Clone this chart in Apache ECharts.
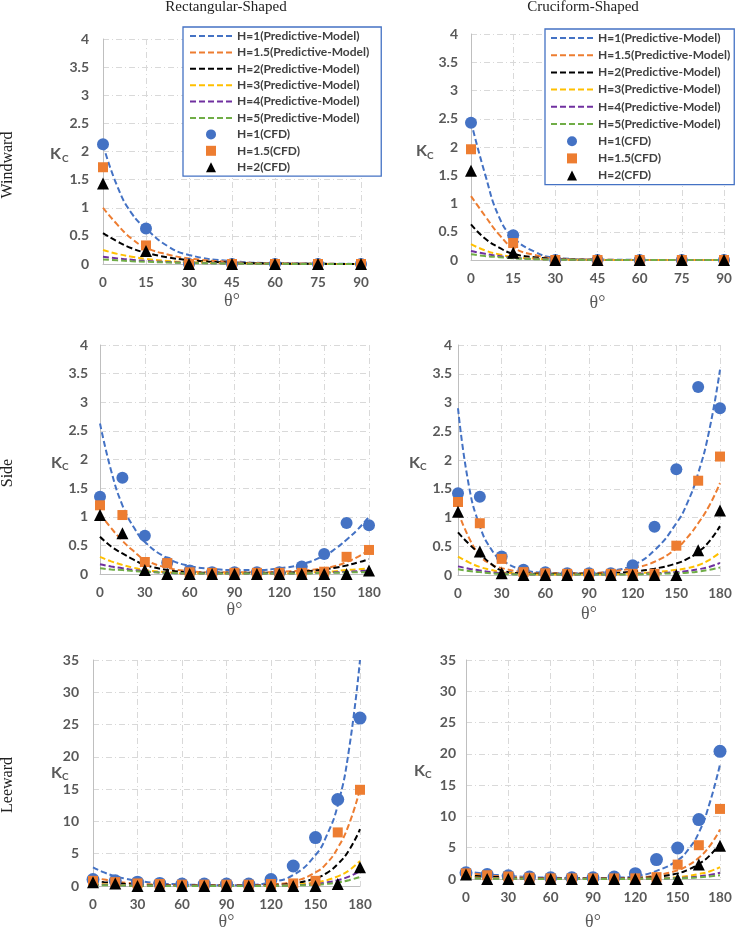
<!DOCTYPE html>
<html><head><meta charset="utf-8">
<script src="https://cdn.jsdelivr.net/npm/echarts/dist/echarts.min.js"></script>
<style>html,body{margin:0;padding:0;background:#fff}#c{width:740px;height:937px}</style>
</head><body><div id="c"></div>
<script>
// ---------- DATA ----------
const modelNames = ['H=1(Predictive-Model)','H=1.5(Predictive-Model)','H=2(Predictive-Model)','H=3(Predictive-Model)','H=4(Predictive-Model)','H=5(Predictive-Model)'];
const cfdNames = ['H=1(CFD)','H=1.5(CFD)','H=2(CFD)'];
const colTitles = ['Rectangular-Shaped','Cruciform-Shaped'];
const rowTitles = ['Windward','Side','Leeward'];

const xWindCurve = [0,5,10,15,22.5,30,45,60,75,90];
const xWindCFD = [0,15,30,45,60,75,90];
const xFullCurve = [0,7.5,15,22.5,30,45,60,75,90,105,120,135,150,157.5,165,172.5,180];
const xFullCFD = [0,15,30,45,60,75,90,105,120,135,150,165,180];

const rectWindModel = [
  [2.12,1.38,0.9,0.63,0.32,0.16,0.05,0.015,0.005,0.002],
  [1.0,0.7,0.45,0.29,0.17,0.1,0.035,0.012,0.004,0.001],
  [0.55,0.4,0.28,0.2,0.12,0.07,0.025,0.009,0.003,0.001],
  [0.25,0.18,0.13,0.09,0.055,0.033,0.012,0.004,0.002,0.001],
  [0.13,0.1,0.075,0.055,0.035,0.022,0.009,0.004,0.002,0.001],
  [0.08,0.065,0.05,0.04,0.027,0.018,0.008,0.003,0.001,0]
];
const rectWindCFD = [
  [2.13,0.63,0,0,0,0,0],
  [1.72,0.33,0,0,0,0,0],
  [1.43,0.23,0,0,0,0,0]
];
const crucWindModel = [
  [2.45,1.52,0.76,0.4,0.15,0.04,0.008,0.002,0,0],
  [1.13,0.78,0.45,0.22,0.09,0.03,0.005,0.001,0,0],
  [0.63,0.38,0.22,0.11,0.05,0.02,0.003,0,0,0],
  [0.28,0.17,0.1,0.055,0.025,0.01,0.002,0,0,0],
  [0.16,0.11,0.07,0.04,0.02,0.01,0.002,0,0,0],
  [0.1,0.07,0.05,0.03,0.015,0.007,0.001,0,0,0]
];
const crucWindCFD = [
  [2.43,0.44,0,0,0,0,0],
  [1.96,0.3,0,0,0,0,0],
  [1.58,0.13,0,0,0,0,0]
];
const rectSideModel = [
  [2.63,1.8,1.2,0.82,0.56,0.28,0.14,0.09,0.07,0.07,0.1,0.17,0.32,0.44,0.6,0.78,1.0],
  [1.05,0.8,0.58,0.4,0.25,0.11,0.05,0.03,0.03,0.03,0.04,0.06,0.1,0.14,0.21,0.3,0.42],
  [0.65,0.48,0.36,0.25,0.16,0.07,0.03,0.02,0.02,0.02,0.02,0.04,0.08,0.11,0.15,0.2,0.26],
  [0.3,0.22,0.16,0.11,0.07,0.03,0.01,0.01,0.01,0.01,0.01,0.02,0.04,0.05,0.07,0.08,0.1],
  [0.17,0.13,0.1,0.07,0.05,0.02,0.01,0.01,0.01,0.01,0.01,0.01,0.03,0.03,0.04,0.05,0.06],
  [0.1,0.08,0.07,0.05,0.04,0.02,0.01,0.01,0.01,0.01,0.01,0.01,0.02,0.02,0.03,0.03,0.04]
];
const rectSideCFD = [
  [1.35,1.68,0.67,0.2,0.06,0.03,0.03,0.03,0.03,0.13,0.35,0.89,0.85],
  [1.2,1.03,0.21,0.19,0.03,0.02,0.02,0.02,0.02,0.02,0.04,0.3,0.42],
  [1.03,0.71,0.07,0,0,0,0,0,0,0,0,0,0.06]
];
const crucSideModel = [
  [2.9,1.55,0.85,0.46,0.26,0.09,0.04,0.03,0.03,0.07,0.17,0.43,0.9,1.25,1.77,2.5,3.57],
  [1.1,0.65,0.34,0.19,0.12,0.05,0.03,0.03,0.03,0.06,0.12,0.23,0.46,0.65,0.9,1.2,1.6],
  [0.74,0.54,0.37,0.2,0.08,0.03,0.02,0.02,0.02,0.03,0.06,0.11,0.2,0.28,0.4,0.58,0.85],
  [0.32,0.22,0.14,0.09,0.05,0.02,0.01,0.01,0.01,0.01,0.03,0.05,0.09,0.12,0.17,0.26,0.39],
  [0.15,0.11,0.08,0.05,0.03,0.01,0.01,0.01,0.01,0.01,0.02,0.03,0.05,0.07,0.1,0.14,0.21],
  [0.1,0.07,0.05,0.03,0.02,0.01,0.01,0.01,0.01,0.01,0.01,0.02,0.03,0.04,0.06,0.09,0.13]
];
const crucSideCFD = [
  [1.42,1.36,0.32,0.09,0.05,0.03,0.03,0.03,0.17,0.84,1.84,3.27,2.9],
  [1.27,0.9,0.28,0.05,0.03,0.02,0.02,0.02,0.02,0.02,0.51,1.64,2.06],
  [1.1,0.41,0.03,0,0,0,0,0,0,0,0,0.43,1.12]
];
const rectLeeModel = [
  [2.9,2.1,1.5,1.1,0.8,0.4,0.25,0.15,0.12,0.15,0.6,1.7,4.8,7.8,12.5,21,35],
  [1.3,1.0,0.7,0.5,0.35,0.2,0.12,0.1,0.1,0.12,0.25,0.7,2.1,3.5,5.9,9.5,15],
  [0.8,0.6,0.45,0.32,0.22,0.12,0.08,0.06,0.06,0.07,0.15,0.4,1.2,2.0,3.4,5.5,8.8],
  [0.4,0.28,0.2,0.14,0.1,0.06,0.04,0.03,0.03,0.03,0.06,0.2,0.55,0.9,1.5,2.4,3.9],
  [0.25,0.18,0.12,0.09,0.06,0.04,0.02,0.02,0.02,0.02,0.04,0.12,0.33,0.55,0.9,1.45,2.3],
  [0.15,0.11,0.08,0.06,0.04,0.02,0.01,0.01,0.01,0.01,0.02,0.07,0.2,0.33,0.55,0.9,1.4]
];
const rectLeeCFD = [
  [1.0,0.8,0.6,0.4,0.3,0.3,0.3,0.3,1.0,3.1,7.5,13.4,26.0],
  [0.8,0.6,0.4,0.3,0.2,0.2,0.2,0.2,0.3,0.4,0.8,8.3,14.9],
  [0.6,0.4,0,0,0,0,0,0,0,0,0,0.3,2.9]
];
const crucLeeModel = [
  [1.3,1.0,0.8,0.62,0.5,0.3,0.2,0.15,0.15,0.2,0.45,1.3,3.0,4.7,7.4,12.0,18.3],
  [1.0,0.8,0.6,0.45,0.35,0.2,0.12,0.1,0.1,0.12,0.2,0.6,1.4,2.2,3.4,5.2,7.9],
  [0.6,0.48,0.38,0.3,0.22,0.12,0.08,0.06,0.06,0.07,0.15,0.35,0.9,1.5,2.4,3.7,5.7],
  [0.3,0.24,0.18,0.14,0.1,0.06,0.04,0.03,0.03,0.03,0.05,0.12,0.3,0.5,0.8,1.2,1.9],
  [0.15,0.12,0.1,0.08,0.06,0.04,0.02,0.02,0.02,0.02,0.03,0.06,0.15,0.25,0.4,0.65,1.0],
  [0.1,0.08,0.06,0.05,0.04,0.02,0.01,0.01,0.01,0.01,0.02,0.04,0.1,0.16,0.25,0.4,0.6]
];
const crucLeeCFD = [
  [1.0,0.7,0.5,0.3,0.2,0.2,0.2,0.3,0.85,3.1,4.95,9.5,20.4],
  [0.9,0.6,0.4,0.2,0.1,0.1,0.1,0.1,0.1,0.3,2.3,5.4,11.2],
  [0.7,0,0,0,0,0,0,0,0,0,0,2.3,5.3]
];

// ---------- STYLE ----------
const modelColors = ['#4472C4','#ED7D31','#000000','#FFC000','#7030A0','#70AD47'];
const cfdColors = ['#4472C4','#ED7D31','#000000'];
const cfdSymbols = ['circle','rect','triangle'];
const cfdLegendIcons = ['circle','path://M0,0H10V10H0Z','path://M5,0L10,10H0Z'];
const cfdSizes = [12,10,12];
const labelFont = 'Lato';
const gray = '#595959';

const panels = [
  {grid:{left:103,top:39,width:258,height:225}, xc:xWindCurve, m:rectWindModel, xd:xWindCFD, d:rectWindCFD, xMax:90, xInt:15, yMax:4, yInt:0.5, yMargin:14, nGap:28},
  {grid:{left:471,top:34,width:253,height:226}, xc:xWindCurve, m:crucWindModel, xd:xWindCFD, d:crucWindCFD, xMax:90, xInt:15, yMax:4, yInt:0.5, yMargin:13, nGap:34},
  {grid:{left:100,top:345,width:269,height:229}, xc:xFullCurve, m:rectSideModel, xd:xFullCFD, d:rectSideCFD, xMax:180, xInt:30, yMax:4, yInt:0.5, yMargin:12, nGap:25},
  {grid:{left:458,top:345,width:262,height:230}, xc:xFullCurve, m:crucSideModel, xd:xFullCFD, d:crucSideCFD, xMax:180, xInt:30, yMax:4, yInt:0.5, yMargin:6, nGap:30},
  {grid:{left:93,top:660,width:267,height:226}, xc:xFullCurve, m:rectLeeModel, xd:xFullCFD, d:rectLeeCFD, xMax:180, xInt:30, yMax:35, yInt:5, yMargin:14, nGap:20},
  {grid:{left:466,top:660,width:254,height:219}, xc:xFullCurve, m:crucLeeModel, xd:xFullCFD, d:crucLeeCFD, xMax:180, xInt:30, yMax:35, yInt:5, yMargin:10, nGap:34}
];
const kcPos = [[50,154,62,159],[416,151,427,156],[51,463,62,467],[409,463,420,467],[51,773,62,777],[414,771,425,775]];

const split = {show:true, lineStyle:{color:'#D9D9D9', width:1, type:[6,3,1,3]}};
const grids = [], xAxes = [], yAxes = [], series = [];
panels.forEach((p, gi) => {
  grids.push(p.grid);
  xAxes.push({gridIndex:gi, type:'value', min:0, max:p.xMax, interval:p.xInt,
    axisLine:{show:true, onZero:false, lineStyle:{color:'#BFBFBF', width:1}}, axisTick:{show:false},
    axisLabel:{color:gray, fontFamily:labelFont, fontWeight:'bold', fontSize:13.5, margin:12},
    splitLine:split,
    name:'θ°', nameLocation:'middle', nameGap:p.nGap,
    nameTextStyle:{fontFamily:'Liberation Serif', fontSize:18, color:gray}});
  yAxes.push({gridIndex:gi, type:'value', min:0, max:p.yMax, interval:p.yInt,
    axisLine:{show:true, lineStyle:{color:'#BFBFBF', width:1}}, axisTick:{show:false},
    axisLabel:{color:gray, fontFamily:labelFont, fontWeight:'bold', fontSize:14, margin:p.yMargin},
    splitLine:split});
  p.m.forEach((row, k) => {
    series.push({type:'line', name:modelNames[k], xAxisIndex:gi, yAxisIndex:gi,
      data:p.xc.map((x,i)=>[x,row[i]]), symbol:'none', smooth:0.5,
      lineStyle:{color:modelColors[k], width:2, type:[6,3]}, itemStyle:{color:modelColors[k]},
      clip:true, z:2, silent:true});
  });
  p.d.forEach((row, k) => {
    series.push({type:'scatter', name:cfdNames[k], xAxisIndex:gi, yAxisIndex:gi,
      data:p.xd.map((x,i)=>[x,row[i]]), symbol:cfdSymbols[k],
      symbolSize: (gi>=4 && k===0) ? 13 : cfdSizes[k],
      itemStyle:{color:cfdColors[k], opacity:1}, z:3+k, silent:true});
  });
});

const legendData = modelNames.map(n=>({name:n, itemStyle:{opacity:0, color:'rgba(0,0,0,0)', borderWidth:0}}))
  .concat(cfdNames.map((n,k)=>({name:n, icon:cfdLegendIcons[k]})));
const legendBase = {orient:'vertical', itemWidth:42, itemHeight:10, backgroundColor:'#fff',
  borderColor:'#4472C4', borderWidth:1.3, selectedMode:false, symbolKeepAspect:true,
  textStyle:{fontFamily:labelFont, fontWeight:'bold', fontSize:12, color:'#404040'},
  data:legendData};
const legends = [
  Object.assign({}, legendBase, {left:183, top:27, itemGap:4.4, padding:[3,12,3,6]}),
  Object.assign({}, legendBase, {left:545, top:29, itemGap:5.2, padding:[3,4,3,5]})
];

const graphics = [];
[[226,7],[583,7]].forEach((pos,i)=>graphics.push({type:'text', x:pos[0], y:pos[1],
  style:{text:colTitles[i], font:'15px "Liberation Serif"', fill:'#222', align:'center', verticalAlign:'middle', textAlign:'center', textVerticalAlign:'middle'}}));
[165,473,785].forEach((y,i)=>graphics.push({type:'text', x:8, y:y, rotation:Math.PI/2,
  style:{text:rowTitles[i], font:'16px "Liberation Serif"', fill:'#222', align:'center', verticalAlign:'middle', textAlign:'center', textVerticalAlign:'middle'}}));
kcPos.forEach(k=>{
  graphics.push({type:'text', x:k[0], y:k[1], style:{text:'K', font:'bold 16px Lato', fill:gray, align:'left', verticalAlign:'middle', textAlign:'left', textVerticalAlign:'middle'}});
  graphics.push({type:'text', x:k[2], y:k[3], style:{text:'C', font:'bold 10px Lato', fill:gray, align:'left', verticalAlign:'middle', textAlign:'left', textVerticalAlign:'middle'}});
});

const chart = echarts.init(document.getElementById('c'), null, {renderer:'canvas'});
chart.setOption({
  animation:false, backgroundColor:'#fff',
  grid:grids, xAxis:xAxes, yAxis:yAxes, series:series, legend:legends, graphic:graphics
});
</script></body></html>
